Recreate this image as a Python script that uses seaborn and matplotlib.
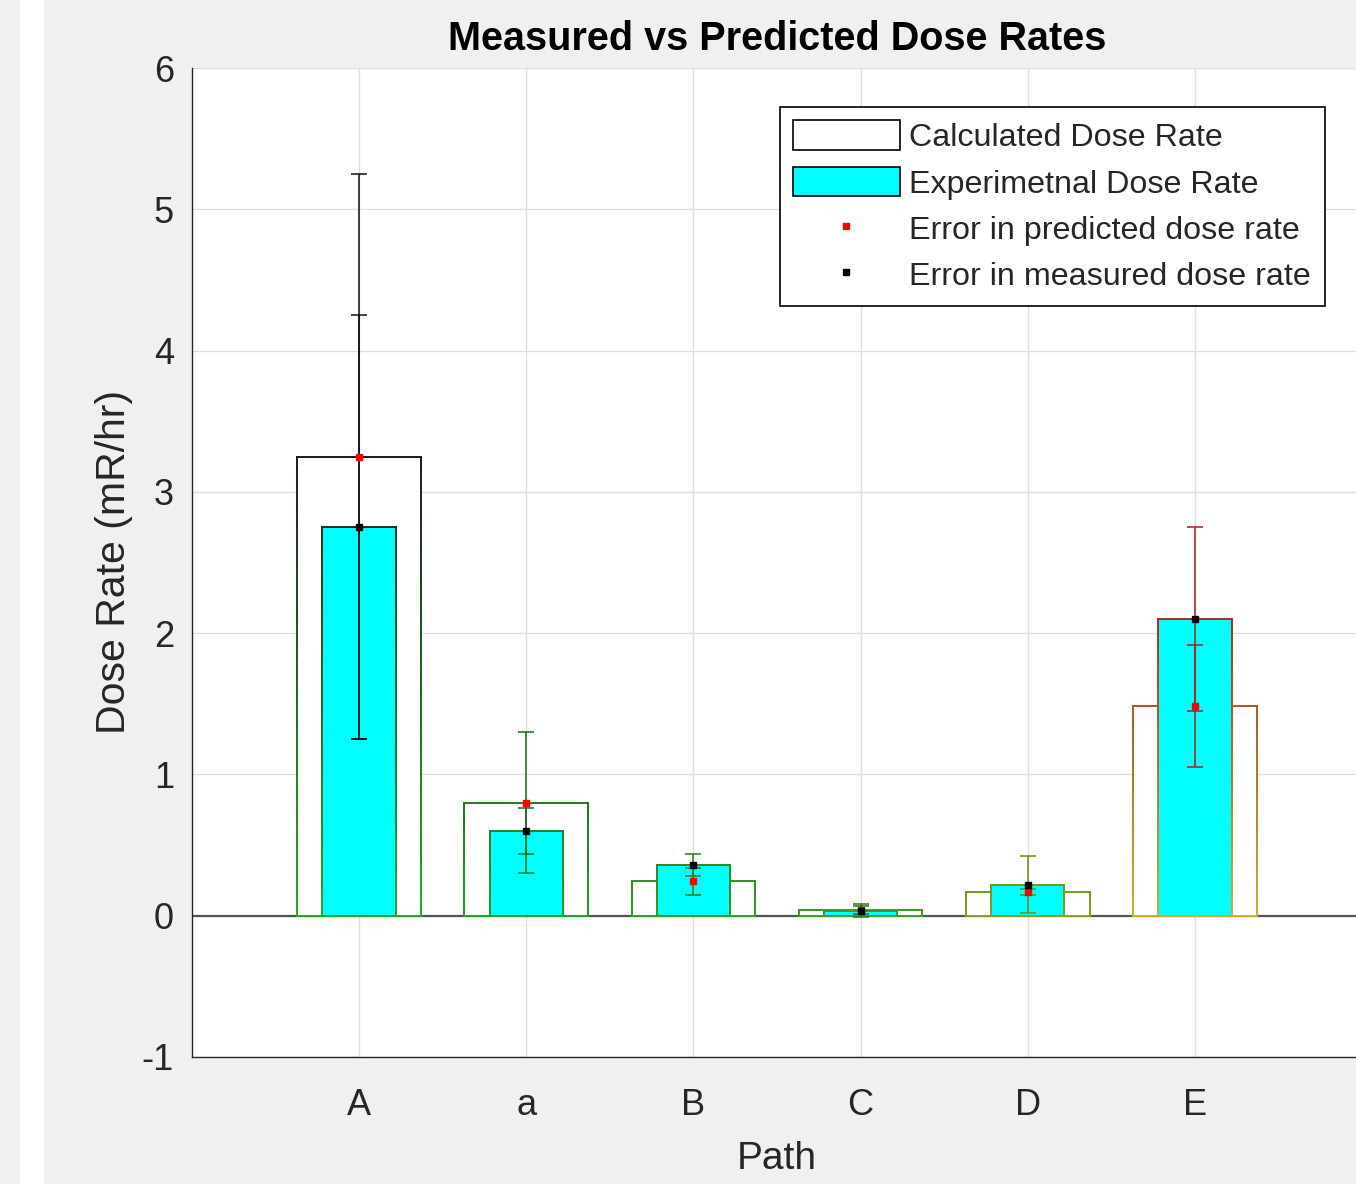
import numpy as np
import pandas as pd
import matplotlib
matplotlib.use("Agg")
import matplotlib.pyplot as plt
import seaborn as sns
from matplotlib.collections import LineCollection
from matplotlib.colors import to_rgb
from matplotlib.patches import Patch, Rectangle
from matplotlib.lines import Line2D

# data
paths = ["A", "a", "B", "C", "D", "E"]
calculated = [3.25, 0.80, 0.245, 0.04, 0.17, 1.485]
measured = [2.75, 0.60, 0.36, 0.035, 0.22, 2.10]
calc_err = [2.0, 0.5, 0.095, 0.03, 0.02, 0.43]
meas_err = [1.5, 0.16, 0.08, 0.045, 0.20, 0.65]

# per-path edge colours (top / bottom of the bars) and error bar colours
edge_top = ["#1a1a1a", "#1e7a1e", "#2a8a1a", "#3a9a20", "#6a9a20", "#b02a1a"]
edge_bottom = ["#22aa22", "#22a022", "#30a020", "#40a020", "#8aa020", "#c8b030"]
err_colors = ["#111111", "#1a6a1a", "#2a7a1a", "#2a7a1a", "#6a8a10", "#a82020"]

df = pd.DataFrame({"path": paths, "calculated": calculated, "measured": measured})

sns.set_style("white")
plt.rcParams["font.family"] = ["Liberation Sans", "DejaVu Sans"]
plt.rcParams["axes.unicode_minus"] = False

fig = plt.figure(figsize=(13.56, 11.84), dpi=100, facecolor="#f0f0f0")
fig.patches.append(Rectangle((20 / 1356, 0), 24 / 1356, 1, transform=fig.transFigure,
                             facecolor="white", edgecolor="none", zorder=0))
ax = fig.add_axes([192 / 1356, 1 - 1057 / 1184, 1170 / 1356, 989 / 1184])
ax.set_facecolor("white")

sns.barplot(data=df, x="path", y="calculated", color="white", width=0.74, saturation=1,
            errorbar=None, linewidth=0, ax=ax)
sns.barplot(data=df, x="path", y="measured", color="cyan", width=0.44, saturation=1,
            errorbar=None, linewidth=0, ax=ax)


def gradient_edges(patch, top_c, bot_c, ymax, z):
    x0, y0 = patch.get_xy()
    w, h = patch.get_width(), patch.get_height()
    t, b = np.array(to_rgb(top_c)), np.array(to_rgb(bot_c))

    def col(y):
        f = np.clip(y / ymax, 0, 1)
        return b + (t - b) * f

    ys = np.linspace(y0, y0 + h, 40)
    segs, cols = [], []
    for xe in (x0, x0 + w):
        for k in range(len(ys) - 1):
            segs.append([(xe, ys[k]), (xe, ys[k + 1])])
            cols.append(col((ys[k] + ys[k + 1]) / 2))
    segs.append([(x0, y0 + h), (x0 + w, y0 + h)])
    cols.append(col(y0 + h))
    segs.append([(x0, y0), (x0 + w, y0)])
    cols.append(col(y0))
    ax.add_collection(LineCollection(segs, colors=cols, linewidths=1.4, zorder=z,
                                     capstyle="projecting"))


n = len(paths)
for k, p in enumerate(ax.patches):
    i = k % n
    z = 2 if k < n else 3
    p.set_zorder(z)
    p.set_edgecolor("none")
    gmax = max(calculated[i], measured[i])
    gradient_edges(p, edge_top[i], edge_bottom[i], gmax, z + 0.1)

ax.axhline(0, color="#555555", lw=1.6, zorder=1.5)

for i in range(n):
    ax.errorbar(i, calculated[i], yerr=calc_err[i], fmt="none", ecolor=err_colors[i],
                elinewidth=1.1, capsize=6, capthick=1.1, zorder=5)
    ax.errorbar(i, measured[i], yerr=meas_err[i], fmt="none", ecolor=err_colors[i],
                elinewidth=1.1, capsize=6, capthick=1.1, zorder=5)
ax.plot(range(n), calculated, ls="none", marker="s", ms=5, color="red", zorder=6)
ax.plot(range(n), measured, ls="none", marker="s", ms=5, color="black", zorder=6)

ax.set_xlim(-1, 6)
ax.set_ylim(-1, 6)
ax.set_yticks(range(-1, 7))
ax.grid(True, color="#dedede", lw=1.0)
ax.set_axisbelow(True)
for s in ("top", "right"):
    ax.spines[s].set_visible(False)
for s in ("left", "bottom"):
    ax.spines[s].set_color("#262626")
    ax.spines[s].set_linewidth(1.0)

ax.tick_params(axis="both", direction="in", length=7, width=0.8, colors="#262626",
               labelsize=26)
ax.tick_params(axis="x", pad=22)
ax.tick_params(axis="y", pad=13)

ax.set_xlabel("Path", fontsize=28, color="#262626", labelpad=13)
ax.set_ylabel("Dose Rate (mR/hr)", fontsize=29.5, color="#262626", labelpad=6)
ax.set_title("Measured vs Predicted Dose Rates", fontsize=28.5, fontweight="bold",
             color="black", pad=13)

handles = [
    Patch(facecolor="white", edgecolor="black", linewidth=1.2),
    Patch(facecolor="cyan", edgecolor="black", linewidth=1.2),
    Line2D([], [], ls="none", marker="s", ms=5, color="red"),
    Line2D([], [], ls="none", marker="s", ms=5, color="black"),
]
labels = ["Calculated Dose Rate", "Experimetnal Dose Rate",
          "Error in predicted dose rate", "Error in measured dose rate"]
leg = ax.legend(handles, labels, loc="upper right", bbox_to_anchor=(0.968, 0.961),
                fontsize=23.2, frameon=True, fancybox=False, framealpha=1,
                edgecolor="black", handlelength=3.3, handleheight=1.05,
                handletextpad=0.3, labelspacing=0.42, borderpad=0.42, borderaxespad=0)
leg.get_frame().set_linewidth(1.2)
for t in leg.get_texts():
    t.set_color("#262626")

fig.savefig("out.png", dpi=100, facecolor=fig.get_facecolor())
